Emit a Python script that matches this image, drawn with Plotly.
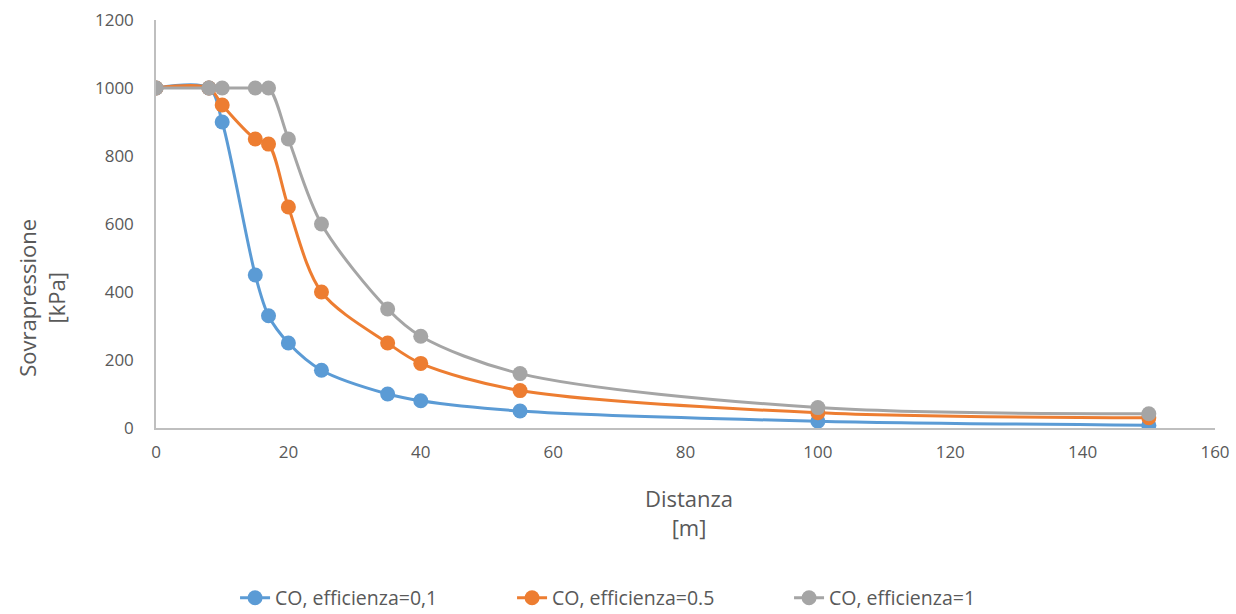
import plotly.graph_objects as go

distanza = [0, 8, 10, 15, 17, 20, 25, 35, 40, 55, 100, 150]
eff_01 = [1000, 1000, 900, 450, 330, 250, 170, 100, 80, 50, 20, 8]
eff_05 = [1000, 1000, 950, 850, 835, 650, 400, 250, 190, 110, 45, 30]
eff_1 = [1000, 1000, 1000, 1000, 1000, 850, 600, 350, 270, 160, 60, 42]

series = [
    ("CO, efficienza=0,1", eff_01, "#5B9BD5"),
    ("CO, efficienza=0.5", eff_05, "#ED7D31"),
    ("CO, efficienza=1", eff_1, "#A5A5A5"),
]

fig = go.Figure()
for name, ys, col in series:
    fig.add_trace(go.Scatter(
        x=distanza, y=ys, name=name, mode="lines+markers",
        line=dict(color=col, width=3, shape="spline", smoothing=0.9),
        marker=dict(color=col, size=15),
    ))

font_family = "Open Sans, Liberation Sans, sans-serif"
fig.update_layout(
    width=1236, height=614,
    margin=dict(l=156, r=21, t=20, b=186, autoexpand=False),
    paper_bgcolor="white", plot_bgcolor="white",
    font=dict(family=font_family, color="#595959", size=17),
    showlegend=True,
    legend=dict(orientation="h", x=0.467, xanchor="center",
                yref="container", y=0.026, yanchor="middle",
                font=dict(size=19.5, color="#595959"),
                entrywidth=232, entrywidthmode="pixels", traceorder="normal"),
    xaxis=dict(range=[0, 160], dtick=20, showgrid=False, zeroline=False,
               showline=True, linecolor="#BFBFBF", linewidth=1.5,
               ticks="", ticklabelstandoff=8, tickfont=dict(size=17, color="#595959")),
    yaxis=dict(range=[0, 1200], dtick=200, showgrid=False, zeroline=False,
               showline=True, linecolor="#BFBFBF", linewidth=1.5,
               ticks="", ticklabelstandoff=17, tickfont=dict(size=17, color="#595959")),
    annotations=[
        dict(text="Distanza<br>[m]", xref="paper", yref="paper", x=0.503, y=-0.208,
             xanchor="center", yanchor="middle", showarrow=False,
             font=dict(size=22, color="#595959")),
        dict(text="Sovrapressione<br>[kPa]", xref="paper", yref="paper", x=-0.1077, y=0.319,
             xanchor="center", yanchor="middle", textangle=-90, showarrow=False,
             font=dict(size=22, color="#595959")),
    ],
)

fig.write_html("out.html")
